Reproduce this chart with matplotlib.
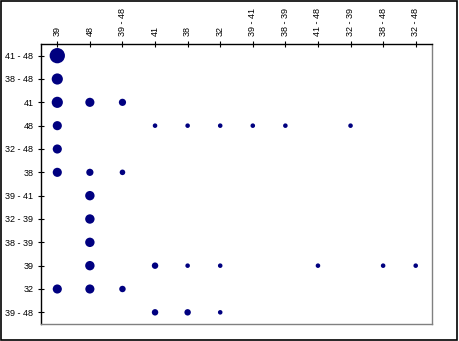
import numpy as np
import matplotlib
matplotlib.use("Agg")
import matplotlib.pyplot as plt
from matplotlib.patches import Rectangle

# categorias de los ejes
x_cats = ["39", "48", "39 - 48", "41", "38", "32", "39 - 41", "38 - 39",
          "41 - 48", "32 - 39", "38 - 48", "32 - 48"]
y_cats = ["41 - 48", "38 - 48", "41", "48", "32 - 48", "38", "39 - 41",
          "32 - 39", "38 - 39", "39", "32", "39 - 48"]

# burbujas: (columna, fila, valor)
bub_x = ["39", "39", "39", "48", "39 - 48",
         "39", "41", "38", "32", "39 - 41", "38 - 39", "32 - 39",
         "39",
         "39", "48", "39 - 48",
         "48", "48", "48",
         "48", "41", "38", "32", "41 - 48", "38 - 48", "32 - 48",
         "39", "48", "39 - 48",
         "41", "38", "32"]
bub_y = ["41 - 48", "38 - 48", "41", "41", "41",
         "48", "48", "48", "48", "48", "48", "48",
         "32 - 48",
         "38", "38", "38",
         "39 - 41", "32 - 39", "38 - 39",
         "39", "39", "39", "39", "39", "39", "39",
         "32", "32", "32",
         "39 - 48", "39 - 48", "39 - 48"]
bub_val = [45, 24, 24, 16, 10,
           16, 4, 4, 4, 4, 4, 4,
           16,
           16, 10, 6,
           17, 17, 17,
           17, 8, 4, 4, 4, 4, 4,
           16, 16, 8,
           8, 8, 4]

xi = np.array([x_cats.index(c) for c in bub_x])
yi = np.array([y_cats.index(c) for c in bub_y])
sizes = np.array(bub_val) * 2.7

fig = plt.figure(figsize=(4.59, 3.41), dpi=100)
ax = fig.add_axes([41 / 459, 1 - 324 / 341, (432 - 41) / 459, (324 - 44) / 341])

ax.scatter(xi, yi, s=sizes, color="#000080", linewidths=0, zorder=3)

ax.set_xlim(-0.5, len(x_cats) - 0.5)
ax.set_ylim(len(y_cats) - 0.5, -0.5)

ax.xaxis.tick_top()
ax.set_xticks(range(len(x_cats)))
ax.set_xticklabels(x_cats, rotation=90, fontsize=6.5, family="Liberation Sans")
ax.set_yticks(range(len(y_cats)))
ax.set_yticklabels(y_cats, fontsize=6.5, family="Liberation Sans")
ax.tick_params(axis="both", direction="inout", length=5, width=0.8, color="black", pad=3)

ax.spines["top"].set_color("black")
ax.spines["left"].set_color("black")
ax.spines["right"].set_color("#808080")
ax.spines["bottom"].set_color("#808080")
for sp in ax.spines.values():
    sp.set_linewidth(1)

# marco exterior
fig.patches.append(Rectangle((0.5 / 459, 1.5 / 341), 456.5 / 459, 339 / 341,
                             transform=fig.transFigure, fill=False,
                             edgecolor="black", linewidth=1.2))

fig.savefig("out.png", dpi=100)
